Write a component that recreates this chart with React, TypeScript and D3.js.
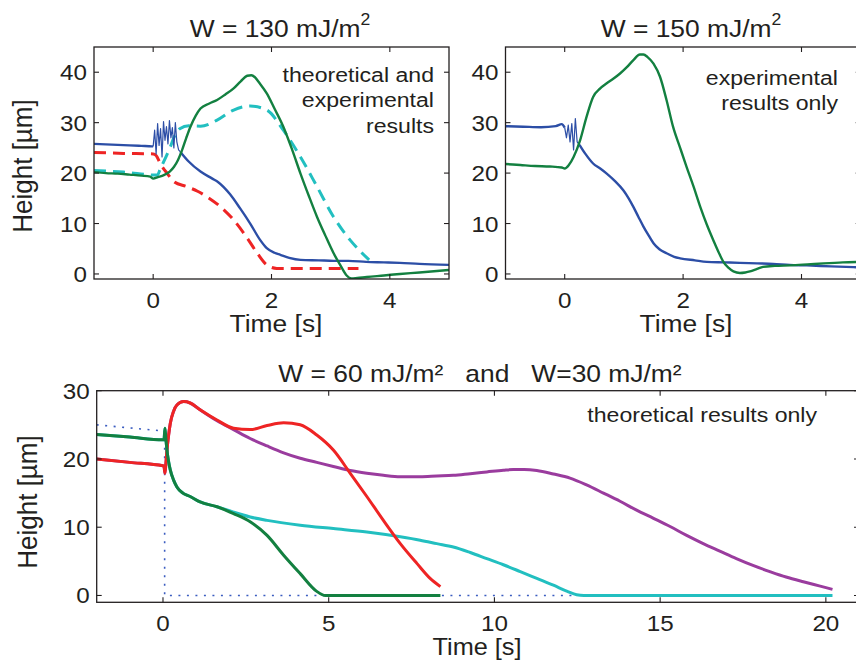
import * as d3 from 'd3';
import { useEffect, useRef } from 'react';

type Pt = [number, number];

// ---- W = 130 mJ/m2 (experimental + theory) ----
const blue130: Pt[] = [
  [-1, 25.8], [-0.8, 25.7], [-0.6, 25.6], [-0.4, 25.5], [-0.2, 25.4], [-0.02, 25.3],
  [0.0, 25.3], [0.025, 28.5], [0.05, 23.8], [0.075, 29.8], [0.1, 25.5], [0.125, 28.8],
  [0.15, 23.2], [0.175, 30.2], [0.2, 26.5], [0.225, 29.2], [0.25, 25.8], [0.275, 30.4],
  [0.3, 27.0], [0.325, 29.0], [0.35, 25.0], [0.375, 30.0], [0.4, 26.2], [0.43, 24.6],
  [0.46, 24.2], [0.6, 22.3], [0.8, 20.3], [1.0, 18.9], [1.1, 18.2], [1.3, 15.8],
  [1.47, 13.0], [1.64, 10.0], [1.81, 6.7], [1.92, 5.1], [2.05, 4.2], [2.15, 3.8],
  [2.3, 3.2], [2.49, 2.8], [2.8, 2.7], [3.05, 2.6], [3.3, 2.6], [3.6, 2.4],
  [3.9, 2.3], [4.17, 2.2], [4.5, 2.0], [5.0, 1.8],
];
const green130: Pt[] = [
  [-1, 20.2], [-0.8, 20.0], [-0.6, 19.9], [-0.4, 19.7], [-0.2, 19.5], [-0.05, 19.3],
  [0.0, 18.9], [0.08, 19.2], [0.18, 19.6], [0.28, 20.3], [0.35, 21.2], [0.42, 22.6],
  [0.49, 24.6], [0.56, 27.0], [0.63, 29.2], [0.72, 31.4], [0.8, 32.8], [0.95, 33.8],
  [1.08, 34.5], [1.22, 35.6], [1.36, 36.8], [1.48, 38.2], [1.59, 39.3], [1.66, 39.4],
  [1.72, 39.0], [1.8, 37.8], [1.92, 35.8], [2.05, 32.8], [2.2, 29.2], [2.35, 24.6],
  [2.49, 19.9], [2.63, 15.5], [2.77, 11.3], [2.91, 7.6], [3.05, 4.1], [3.17, 1.6],
  [3.27, -0.3], [3.35, -0.9], [3.45, -0.8], [3.61, -0.6], [3.9, -0.3], [4.17, 0.0],
  [4.5, 0.3], [5.0, 0.8],
];
const cyan130: Pt[] = [
  [-1, 20.5], [-0.5, 20.2], [0.07, 19.6], [0.12, 20.8], [0.2, 22.8], [0.29, 25.2],
  [0.36, 27.3], [0.45, 28.8], [0.6, 29.4], [0.8, 29.3], [1.08, 30.5], [1.36, 32.5],
  [1.64, 33.3], [1.92, 32.5], [2.2, 28.5], [2.49, 23.2], [2.77, 17.3], [3.05, 11.3],
  [3.33, 6.7], [3.5, 4.5], [3.65, 2.8],
];
const red130: Pt[] = [
  [-1, 24.1], [-0.5, 23.9], [0.0, 23.8], [0.05, 23.5], [0.12, 21.9], [0.24, 19.9],
  [0.35, 18.3], [0.57, 17.3], [0.75, 16.4], [0.91, 15.3], [1.14, 13.3], [1.36, 10.7],
  [1.59, 7.1], [1.76, 4.1], [1.92, 1.8], [2.09, 1.1], [3.47, 1.1],
];

// ---- W = 150 mJ/m2 (experimental only) ----
const blue150: Pt[] = [
  [-1, 29.3], [-0.7, 29.2], [-0.4, 29.1], [-0.15, 29.3], [-0.05, 29.7], [0.0, 29.0],
  [0.03, 27.0], [0.06, 29.5], [0.09, 26.2], [0.12, 29.8], [0.15, 24.6], [0.18, 30.8],
  [0.21, 26.2], [0.25, 25.6],
  [0.35, 23.8], [0.48, 21.9], [0.6, 20.9], [0.71, 19.9], [0.85, 18.4], [0.99, 16.6],
  [1.08, 15.0], [1.16, 13.3], [1.25, 11.2], [1.33, 9.4], [1.42, 7.6], [1.5, 6.1],
  [1.6, 4.9], [1.72, 4.1], [1.85, 3.4], [1.95, 3.1], [2.2, 2.7], [2.4, 2.4],
  [2.7, 2.3], [2.96, 2.2], [3.25, 2.1], [3.52, 2.0], [3.8, 1.8], [4.09, 1.7],
  [4.5, 1.5], [5.0, 1.3],
];
const green150: Pt[] = [
  [-1, 21.8], [-0.75, 21.6], [-0.5, 21.4], [-0.25, 21.3], [-0.05, 21.1], [0.0, 20.9],
  [0.07, 21.6], [0.15, 23.2], [0.26, 26.5], [0.37, 31.2], [0.48, 35.1], [0.6, 36.8],
  [0.71, 37.8], [0.82, 38.7], [0.93, 39.7], [1.05, 41.0], [1.16, 42.4], [1.27, 43.5],
  [1.33, 43.5], [1.4, 43.0], [1.5, 41.7], [1.61, 39.1], [1.72, 34.5], [1.83, 29.2],
  [1.95, 25.0], [2.06, 21.2], [2.18, 17.2], [2.29, 13.3], [2.4, 9.8], [2.51, 6.7],
  [2.6, 4.3], [2.68, 2.4], [2.77, 1.2], [2.85, 0.5], [2.96, 0.2], [3.05, 0.3],
  [3.13, 0.5], [3.25, 1.0], [3.35, 1.4], [3.55, 1.6], [3.81, 1.7], [4.1, 1.9],
  [4.37, 2.1], [4.7, 2.3], [5.0, 2.4],
];

// ---- W = 60 and W = 30 mJ/m2 (theory only) ----
const dottedRef: Pt[] = [[-2, 25], [0, 24.1], [0.05, 24.1], [0.05, 0], [12.4, 0]];
const green60: Pt[] = [
  [-2, 23.6], [-1, 23.2], [0, 22.8], [0.03, 22.8], [0.06, 24.5], [0.09, 22.8],
  [0.12, 21.3], [0.17, 19.6], [0.22, 18.4], [0.32, 16.9], [0.42, 15.9], [0.6, 15.0],
  [0.82, 14.5], [1.12, 13.7], [1.63, 13.0], [2.13, 12.0], [2.63, 10.8], [3.14, 8.8],
  [3.64, 5.9], [4.14, 3.2], [4.64, 0.6], [4.9, 0], [8.37, 0],
];
const cyan30: Pt[] = [
  [-2, 23.6], [-1, 23.2], [0, 22.8], [0.03, 22.8], [0.06, 24.5], [0.09, 22.8],
  [0.12, 21.3], [0.17, 19.6], [0.22, 18.4], [0.32, 16.9], [0.42, 15.9], [0.6, 15.0],
  [0.82, 14.5], [1.12, 13.7], [1.63, 13.0], [2.13, 12.2], [2.63, 11.5], [3.14, 11.0],
  [4.14, 10.3], [5.14, 9.8], [6.15, 9.3], [7.16, 8.6], [7.76, 8.1], [8.26, 7.6],
  [8.76, 7.1], [9.27, 6.3], [9.77, 5.4], [10.27, 4.5], [10.78, 3.5], [11.28, 2.5],
  [11.78, 1.5], [12.2, 0.6], [12.48, 0.1], [12.7, 0], [20.2, 0],
];
const red60: Pt[] = [
  [-2, 20.0], [-1, 19.5], [0, 19.0], [0.03, 18.9], [0.06, 17.9], [0.09, 19.5],
  [0.12, 21.3], [0.17, 23.5], [0.22, 25.2], [0.32, 27.0], [0.42, 27.9], [0.62, 28.4],
  [0.82, 28.2], [1.12, 27.2], [1.63, 25.7], [2.13, 24.5], [2.63, 24.3], [3.14, 24.9],
  [3.64, 25.3], [4.14, 25.0], [4.64, 23.5], [5.14, 21.3], [5.65, 17.9], [6.15, 14.5],
  [6.65, 11.0], [7.16, 7.6], [7.66, 4.7], [8.06, 2.5], [8.37, 1.3],
];
const purple30: Pt[] = [
  [-2, 20.0], [-1, 19.5], [0, 19.0], [0.03, 18.9], [0.06, 17.9], [0.09, 19.5],
  [0.12, 21.3], [0.17, 23.5], [0.22, 25.2], [0.32, 27.0], [0.42, 27.9], [0.62, 28.4],
  [0.82, 28.2], [1.12, 27.2], [1.63, 25.6], [2.13, 24.3], [2.63, 23.0], [3.14, 21.9],
  [3.64, 20.9], [4.14, 20.1], [4.64, 19.5], [5.14, 18.9], [5.65, 18.3], [6.15, 17.9],
  [6.65, 17.6], [7.16, 17.4], [7.76, 17.4], [8.26, 17.5], [8.76, 17.6], [9.27, 17.85],
  [9.77, 18.1], [10.27, 18.35], [10.57, 18.45], [10.9, 18.45], [11.28, 18.3], [11.78, 17.8],
  [12.28, 17.2], [12.78, 16.2], [13.29, 15.0], [13.79, 13.8], [14.29, 12.5], [14.8, 11.3],
  [15.3, 10.1], [15.8, 8.8], [16.3, 7.6], [16.8, 6.5], [17.3, 5.4], [17.8, 4.4],
  [18.31, 3.5], [18.8, 2.7], [19.32, 2.0], [19.8, 1.4], [20.2, 0.9],
];

const topXTicks = [0, 2, 4];
const topYTicks = [0, 10, 20, 30, 40];
const botXTicks = [0, 5, 10, 15, 20];
const botYTicks = [0, 10, 20, 30];

const FONT = '"Liberation Sans", Arial, Helvetica, sans-serif';
const INK = '#231f20';
const C = {
  blue: '#2c4ea6',
  green: '#138040',
  cyan: '#22bfc0',
  red: '#ee2424',
  purple: '#9a3c9e',
  dot: '#3a5cc0',
};

function txt(g: any, x: number, y: number, s: string, size: number, anchor: string) {
  return g.append('text')
    .attr('transform', `translate(${x},${y}) scale(1.1,1)`)
    .attr('text-anchor', anchor)
    .attr('font-size', size)
    .attr('font-family', FONT)
    .attr('fill', INK)
    .text(s);
}

function panel(svg: any, id: string, box: any, xDom: number[], yDom: number[],
  xTicks: number[], yTicks: number[], tickDy: number) {
  const x = d3.scaleLinear().domain(xDom).range([box.l, box.r]);
  const y = d3.scaleLinear().domain(yDom).range([box.b, box.t]);
  svg.append('clipPath').attr('id', id)
    .append('rect')
    .attr('x', box.l).attr('y', box.t)
    .attr('width', box.r - box.l).attr('height', box.b - box.t);
  const plot = svg.append('g').attr('clip-path', `url(#${id})`);
  const axes = svg.append('g');
  axes.append('rect')
    .attr('x', box.l).attr('y', box.t)
    .attr('width', box.r - box.l).attr('height', box.b - box.t)
    .attr('fill', 'none').attr('stroke', INK).attr('stroke-width', 1.3);
  xTicks.forEach((t) => {
    axes.append('line').attr('x1', x(t)).attr('x2', x(t)).attr('y1', box.b).attr('y2', box.b - 5)
      .attr('stroke', INK).attr('stroke-width', 1.1);
    axes.append('line').attr('x1', x(t)).attr('x2', x(t)).attr('y1', box.t).attr('y2', box.t + 5)
      .attr('stroke', INK).attr('stroke-width', 1.1);
    txt(axes, x(t), box.b + tickDy, String(t), 22, 'middle');
  });
  yTicks.forEach((v) => {
    axes.append('line').attr('x1', box.l).attr('x2', box.l + 5).attr('y1', y(v)).attr('y2', y(v))
      .attr('stroke', INK).attr('stroke-width', 1.1);
    axes.append('line').attr('x1', box.r).attr('x2', box.r - 5).attr('y1', y(v)).attr('y2', y(v))
      .attr('stroke', INK).attr('stroke-width', 1.1);
    txt(axes, box.l - 7, y(v) + 8, String(v), 22, 'end');
  });
  return { x, y, plot, axes };
}

function draw(p: any, data: Pt[], color: string, width: number, dash?: string, linear?: boolean) {
  const line = d3.line<Pt>()
    .x((d) => p.x(d[0]))
    .y((d) => p.y(d[1]))
    .curve(linear ? d3.curveLinear : d3.curveMonotoneX);
  p.plot.append('path')
    .datum(data)
    .attr('d', line)
    .attr('fill', 'none')
    .attr('stroke', color)
    .attr('stroke-width', width)
    .attr('stroke-linejoin', 'round')
    .attr('stroke-dasharray', dash || null);
}

// experimental trace: thin through the noisy jump, normal elsewhere
function drawExp(p: any, data: Pt[], color: string, t0: number, t1: number) {
  draw(p, data.filter((d) => d[0] <= t0), color, 2.4);
  draw(p, data.filter((d) => d[0] >= t0 && d[0] <= t1), color, 1.2, undefined, true);
  draw(p, data.filter((d) => d[0] >= t1), color, 2.4);
}

function title(svg: any, x: number, y: number, main: string) {
  const t = svg.append('text')
    .attr('transform', `translate(${x},${y}) scale(1.1,1)`)
    .attr('text-anchor', 'middle')
    .attr('font-size', 24)
    .attr('font-family', FONT)
    .attr('fill', INK);
  t.append('tspan').text(main);
  t.append('tspan').attr('font-size', 16).attr('dy', -12).text('2');
}

function yLabel(svg: any, x: number, y: number) {
  svg.append('text')
    .attr('transform', `translate(${x},${y}) rotate(-90) scale(1,1.08)`)
    .attr('text-anchor', 'middle')
    .attr('font-size', 26)
    .attr('font-family', FONT)
    .attr('fill', INK)
    .text('Height [µm]');
}

export default function App() {
  const ref = useRef<SVGSVGElement>(null);

  useEffect(() => {
    const svg = d3.select(ref.current);
    svg.selectAll('*').remove();

    // top left: W = 130
    const a = panel(svg, 'clipA', { l: 94, r: 449, t: 47, b: 279 }, [-1, 5], [-1, 45],
      topXTicks, topYTicks, 28.5);
    draw(a, red130, C.red, 3, '12,7');
    draw(a, cyan130, C.cyan, 3, '12,7');
    drawExp(a, blue130, C.blue, 0, 0.46);
    draw(a, green130, C.green, 2.4);
    title(svg, 280, 37, 'W = 130 mJ/m');
    txt(svg, 276, 332, 'Time [s]', 24, 'middle');
    yLabel(svg, 32, 166);
    txt(svg, 434, 82, 'theoretical and', 21, 'end');
    txt(svg, 434, 107, 'experimental', 21, 'end');
    txt(svg, 434, 132.5, 'results', 21, 'end');

    // top right: W = 150
    const b = panel(svg, 'clipB', { l: 505.5, r: 860.7, t: 47, b: 279 }, [-1, 5], [-1, 45],
      topXTicks, topYTicks, 28.5);
    drawExp(b, blue150, C.blue, 0, 0.25);
    draw(b, green150, C.green, 2.4);
    title(svg, 691, 37, 'W = 150 mJ/m');
    txt(svg, 686, 332, 'Time [s]', 24, 'middle');
    txt(svg, 838, 85, 'experimental', 21, 'end');
    txt(svg, 838, 110, 'results only', 21, 'end');

    // bottom: W = 60 and W = 30
    const c = panel(svg, 'clipC', { l: 96.7, r: 859, t: 390.7, b: 602.3 }, [-2, 21], [-1, 30],
      botXTicks, botYTicks, 29);
    draw(c, dottedRef, C.dot, 1.6, '2,6.5', true);
    draw(c, purple30, C.purple, 3);
    draw(c, cyan30, C.cyan, 3);
    draw(c, red60, C.red, 3);
    draw(c, green60, C.green, 3);
    svg.append('text')
      .attr('transform', 'translate(480,382) scale(1.1,1)')
      .attr('text-anchor', 'middle')
      .attr('font-size', 24)
      .attr('font-family', FONT)
      .attr('fill', INK)
      .style('white-space', 'pre')
      .text('W = 60 mJ/m²   and   W=30 mJ/m²');
    txt(svg, 477, 655, 'Time [s]', 23, 'middle');
    yLabel(svg, 36.5, 502);
    txt(svg, 817, 422, 'theoretical results only', 21, 'end');
  }, []);

  return (
    <svg
      ref={ref}
      width={856}
      height={661}
      style={{ position: 'absolute', left: 0, top: 0, display: 'block', background: '#fff' }}
    />
  );
}
